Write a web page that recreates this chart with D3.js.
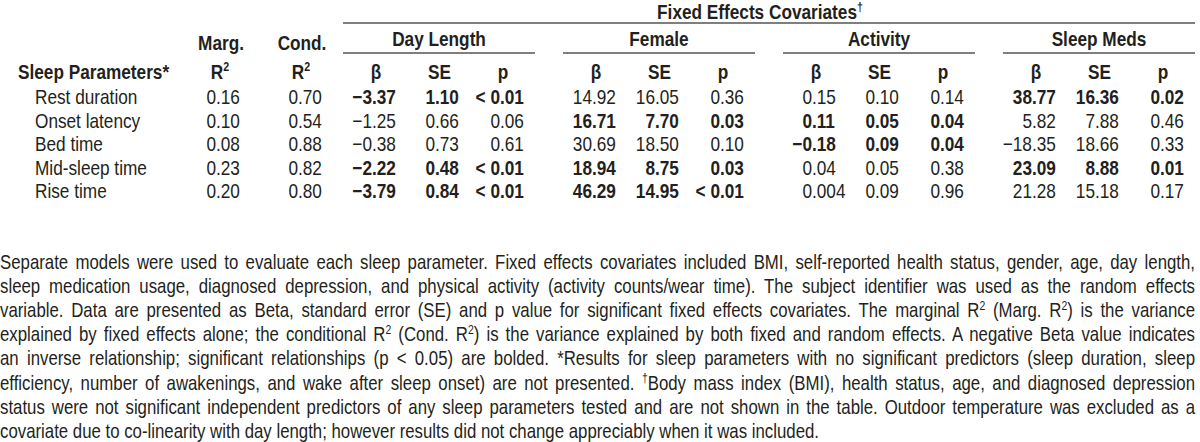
<!DOCTYPE html>
<html>
<head>
<meta charset="utf-8">
<script src="https://cdn.jsdelivr.net/npm/d3@7"></script>
<style>
  body { margin: 0; background: #fff; }
  svg text { font-family: "Liberation Sans", Arial, sans-serif; fill: #231f20; }
</style>
</head>
<body>
<svg id="table" width="1200" height="442"></svg>
<script>
// table data
const params = ["Rest duration", "Onset latency", "Bed time", "Mid-sleep time", "Rise time"]
const margR2 = ["0.16", "0.10", "0.08", "0.23", "0.20"]
const condR2 = ["0.70", "0.54", "0.88", "0.82", "0.80"]
const covariates = ["Day Length", "Female", "Activity", "Sleep Meds"]
const stats = ["β", "SE", "p"]
const dayLength = [["−3.37", "1.10", "< 0.01"], ["−1.25", "0.66", "0.06"], ["−0.38", "0.73", "0.61"], ["−2.22", "0.48", "< 0.01"], ["−3.79", "0.84", "< 0.01"]]
const female = [["14.92", "16.05", "0.36"], ["16.71", "7.70", "0.03"], ["30.69", "18.50", "0.10"], ["18.94", "8.75", "0.03"], ["46.29", "14.95", "< 0.01"]]
const activity = [["0.15", "0.10", "0.14"], ["0.11", "0.05", "0.04"], ["−0.18", "0.09", "0.04"], ["0.04", "0.05", "0.38"], ["0.004", "0.09", "0.96"]]
const sleepMeds = [["38.77", "16.36", "0.02"], ["5.82", "7.88", "0.46"], ["−18.35", "18.66", "0.33"], ["23.09", "8.88", "0.01"], ["21.28", "15.18", "0.17"]]
const covData = [dayLength, female, activity, sleepMeds]

// footnote, one entry per printed line (^x = superscript)
const notes = [
    "Separate models were used to evaluate each sleep parameter. Fixed effects covariates included BMI, self-reported health status, gender, age, day length,",
    "sleep medication usage, diagnosed depression, and physical activity (activity counts/wear time). The subject identifier was used as the random effects",
    "variable. Data are presented as Beta, standard error (SE) and p value for significant fixed effects covariates. The marginal R^2 (Marg. R^2) is the variance",
    "explained by fixed effects alone; the conditional R^2 (Cond. R^2) is the variance explained by both fixed and random effects. A negative Beta value indicates",
    "an inverse relationship; significant relationships (p < 0.05) are bolded. *Results for sleep parameters with no significant predictors (sleep duration, sleep",
    "efficiency, number of awakenings, and wake after sleep onset) are not presented. ^†Body mass index (BMI), health status, age, and diagnosed depression",
    "status were not significant independent predictors of any sleep parameters tested and are not shown in the table. Outdoor temperature was excluded as a",
    "covariate due to co-linearity with day length; however results did not change appreciably when it was included."
]

const width = 1200
const fs = 21      // table font size
const nfs = 20.5   // footnote font size
const K = 0.82     // narrow face: horizontal squeeze
const svg = d3.select('#table')

const y = d3.scalePoint().domain(params).range([104, 198])
const group = d3.scaleBand().domain(covariates).range([343, 1195]).paddingInner(0.127)
const statX = d3.scalePoint().domain(stats).range([33, 160])
const decOffset = { "β": 29, "SE": 92, "p": 157 }

const isSig = (p) => p.startsWith('<') || parseFloat(p) < 0.05

// narrow text at x, y
function txt(parent, x, yy, size, bold, anchor) {
    return parent.append('text')
        .attr('transform', `translate(${x},${yy}) scale(${K},1)`)
        .attr('text-anchor', anchor || 'start')
        .style('font-size', size + 'px')
        .style('font-weight', bold ? 'bold' : 'normal')
}

// writes text with ^x superscripts as tspans
function richText(sel, str, size) {
    const parts = str.split(/\^(.)/)
    parts.forEach((part, i) => {
        if (i % 2 === 0) {
            if (part) sel.append('tspan').attr('dy', i > 0 ? size * 0.36 : null).text(part)
        } else {
            sel.append('tspan').attr('dy', -size * 0.36).style('font-size', (size * 0.62) + 'px').text(part)
        }
    })
    return sel
}

// decimal aligned number
function decimal(g, x, yy, val, bold) {
    const idx = val.indexOf('.')
    txt(g, x, yy, fs, bold, 'end').text(val.slice(0, idx))
    txt(g, x, yy, fs, bold, 'start').text(val.slice(idx))
}

// title
richText(txt(svg, 760, 19, fs, true, 'middle'), "Fixed Effects Covariates^†", fs)

svg.append('line')
    .attr('x1', group.range()[0]).attr('x2', group.range()[1])
    .attr('y1', 23).attr('y2', 23)
    .attr('stroke', '#555').attr('stroke-width', 1.5)

// covariate group headers
covariates.forEach(cov => {
    const g = svg.append('g').attr('transform', `translate(${group(cov)},0)`)
    txt(g, group.bandwidth() / 2, 46, fs, true, 'middle').text(cov)
    g.append('line')
        .attr('x1', 0).attr('x2', group.bandwidth())
        .attr('y1', 53).attr('y2', 53)
        .attr('stroke', '#555').attr('stroke-width', 1.5)
    stats.forEach(s => txt(g, statX(s), 79, fs, true, 'middle').text(s))
})

// left headers
txt(svg, 18, 79, fs, true).text('Sleep Parameters*')

const r2cols = [{ name: 'Marg.', x: 221, dec: 216, vals: margR2 }, { name: 'Cond.', x: 302, dec: 298, vals: condR2 }]
r2cols.forEach(c => {
    txt(svg, c.x, 50, fs, true, 'middle').text(c.name)
    richText(txt(svg, c.x - 1, 79, fs, true, 'middle'), 'R^2', fs)
    c.vals.forEach((v, i) => decimal(svg, c.dec, y(params[i]), v, false))
})

// rows
params.forEach(p => txt(svg, 35, y(p), fs, false).text(p))

covariates.forEach((cov, ci) => {
    const g = svg.append('g').attr('transform', `translate(${group(cov)},0)`)
    covData[ci].forEach((row, ri) => {
        const bold = isSig(row[2])
        row.forEach((v, si) => decimal(g, decOffset[stats[si]], y(params[ri]), v, bold))
    })
})

// footnote, justified
notes.forEach((line, i) => {
    const t = txt(svg, 0, 269 + i * 24.1, nfs, false)
    richText(t, line, nfs)
    if (i < notes.length - 1) {
        const natural = t.node().getComputedTextLength()
        const spaces = (line.match(/ /g) || []).length
        t.style('word-spacing', (((width - 5) / K - natural) / spaces) + 'px')
    }
})
</script>
</body>
</html>
